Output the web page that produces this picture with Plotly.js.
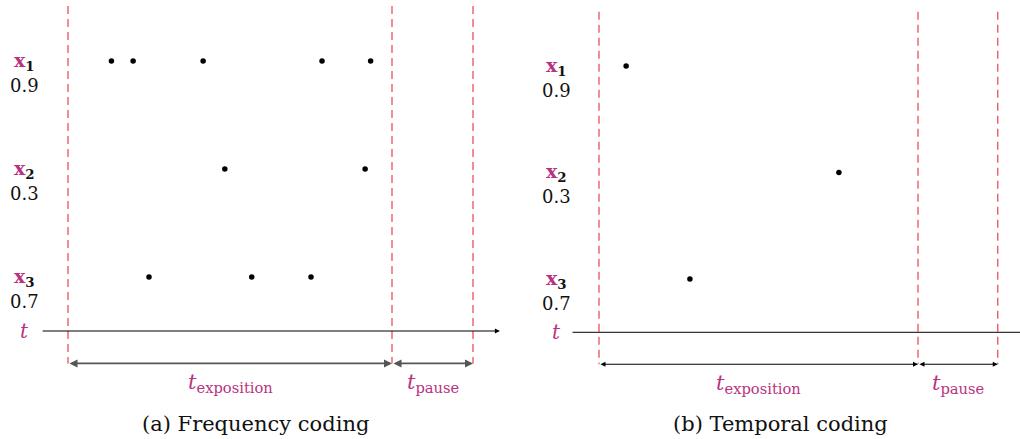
<!DOCTYPE html>
<html>
<head>
<meta charset="utf-8">
<script src="https://cdn.plot.ly/plotly-3.0.1.min.js"></script>
<style>html,body{margin:0;padding:0;background:#fff;}#chart{width:1020px;height:439px;}</style>
</head>
<body>
<div id="chart"></div>
<script>
// ---- data ----
const inputNames = ['1', '2', '3'];          // subscripts of x_i
const inputValues = [0.9, 0.3, 0.7];
const rowIndex = [1, 2, 3];
// spike times (time units; exposition window = 0..100)
const freqSpikesX1 = [13.4, 20.1, 41.7, 78.4, 93.4];
const freqSpikesX2 = [48.4, 91.7];
const freqSpikesX3 = [25.0, 56.7, 75.0];
const tempSpikes = [8.5, 75.2, 28.5];        // one spike per input
const tExposition = 100;
const tPause = 25;
const captions = ['(a) Frequency coding', '(b) Temporal coding'];

// ---- styles ----
const MAG = '#b8337f';
const RED = '#e6434c';
const FONT = 'DejaVu Serif';
const axisRow = 3.5, spanRow = 3.8, topRow = 0.49;
const axStart = -8.3, axEnd = 133.3, labelX = -13.3;

function spikeTrace(times, row, xa, ya) {
  return {type: 'scatter', mode: 'markers', x: times, y: times.map(() => row),
    xaxis: xa, yaxis: ya, marker: {color: '#000', size: 5.5}, hoverinfo: 'skip', showlegend: false};
}
const traces = [
  spikeTrace(freqSpikesX1, rowIndex[0], 'x', 'y'),
  spikeTrace(freqSpikesX2, rowIndex[1], 'x', 'y'),
  spikeTrace(freqSpikesX3, rowIndex[2], 'x', 'y'),
  {type: 'scatter', mode: 'markers', x: tempSpikes, y: rowIndex, xaxis: 'x2', yaxis: 'y2',
    marker: {color: '#000', size: 5.5}, hoverinfo: 'skip', showlegend: false}
];

const shapes = [];
const annotations = [];
[['x', 'y'], ['x2', 'y2']].forEach(([xr, yr], p) => {
  const bounds = [0, tExposition, tExposition + tPause];
  bounds.forEach(b => shapes.push({type: 'line', xref: xr, yref: yr, x0: b, x1: b, y0: topRow, y1: spanRow,
    line: {color: RED, width: 1.2, dash: '8px,5px'}}));
  // time axis
  if (p === 0) {
    annotations.push({xref: xr, yref: yr, axref: xr, ayref: yr, x: axEnd, y: axisRow, ax: axStart, ay: axisRow,
      text: '', showarrow: true, arrowhead: 2, arrowsize: 1, arrowwidth: 1, arrowcolor: '#000', standoff: 0, startstandoff: 0});
  } else {
    shapes.push({type: 'line', xref: xr, yref: yr, x0: axStart, x1: axEnd + 10, y0: axisRow, y1: axisRow,
      line: {color: '#000', width: 1}});
  }
  // duration arrows
  const spans = [[0, tExposition], [tExposition, tExposition + tPause]];
  spans.forEach(([a, b]) => annotations.push({xref: xr, yref: yr, axref: xr, ayref: yr, x: b, y: spanRow, ax: a, ay: spanRow,
    text: '', showarrow: true, arrowside: 'end+start', arrowhead: 2, arrowsize: 1, arrowwidth: p === 0 ? 1.6 : 1,
    arrowcolor: p === 0 ? '#555' : '#000', standoff: 0, startstandoff: 0}));
  annotations.push({xref: xr, yref: yr, x: tExposition / 2, y: spanRow, yshift: -20, showarrow: false,
    text: '<i>t</i><sub>exposition</sub>', font: {family: FONT, size: 21, color: MAG}});
  annotations.push({xref: xr, yref: yr, x: tExposition + tPause / 2, y: spanRow, yshift: -20, showarrow: false,
    text: '<i>t</i><sub>pause</sub>', font: {family: FONT, size: 21, color: MAG}});
  annotations.push({xref: xr, yref: yr, x: labelX, y: axisRow, showarrow: false,
    text: '<i>t</i>', font: {family: FONT, size: 20, color: MAG}});
  // input labels
  rowIndex.forEach((r, i) => {
    annotations.push({xref: xr, yref: yr, x: labelX, y: r, showarrow: false,
      text: '<b><span style="color:' + MAG + '">x</span><sub>' + inputNames[i] + '</sub></b>',
      font: {family: FONT, size: 19, color: '#111'}});
    annotations.push({xref: xr, yref: yr, x: labelX, y: r, yshift: -24, showarrow: false,
      text: inputValues[i].toFixed(1), font: {family: FONT, size: 18, color: '#111'}});
  });
});
annotations.push({xref: 'paper', yref: 'paper', x: 0.25, y: 0.034, xanchor: 'center', yanchor: 'middle',
  showarrow: false, text: captions[0], font: {family: FONT, size: 21, color: '#111'}});
annotations.push({xref: 'paper', yref: 'paper', x: 0.765, y: 0.034, xanchor: 'center', yanchor: 'middle',
  showarrow: false, text: captions[1], font: {family: FONT, size: 21, color: '#111'}});

const hidden = {visible: false, showgrid: false, zeroline: false, fixedrange: true};
const layout = {
  width: 1020, height: 439, margin: {l: 0, r: 0, t: 0, b: 0},
  paper_bgcolor: '#fff', plot_bgcolor: 'rgba(0,0,0,0)', showlegend: false,
  xaxis: Object.assign({}, hidden, {domain: [0, 0.5], range: [-20.99, 136.42], anchor: 'y'}),
  yaxis: Object.assign({}, hidden, {domain: [0, 1], range: [4.5, 0.435], anchor: 'x'}),
  xaxis2: Object.assign({}, hidden, {domain: [0.5, 1], range: [-27.9, 131.97], anchor: 'y2'}),
  yaxis2: Object.assign({}, hidden, {domain: [0, 1], range: [4.502, 0.38], anchor: 'x2'}),
  shapes: shapes, annotations: annotations
};
Plotly.newPlot('chart', traces, layout, {staticPlot: true, displayModeBar: false});
</script>
</body>
</html>
